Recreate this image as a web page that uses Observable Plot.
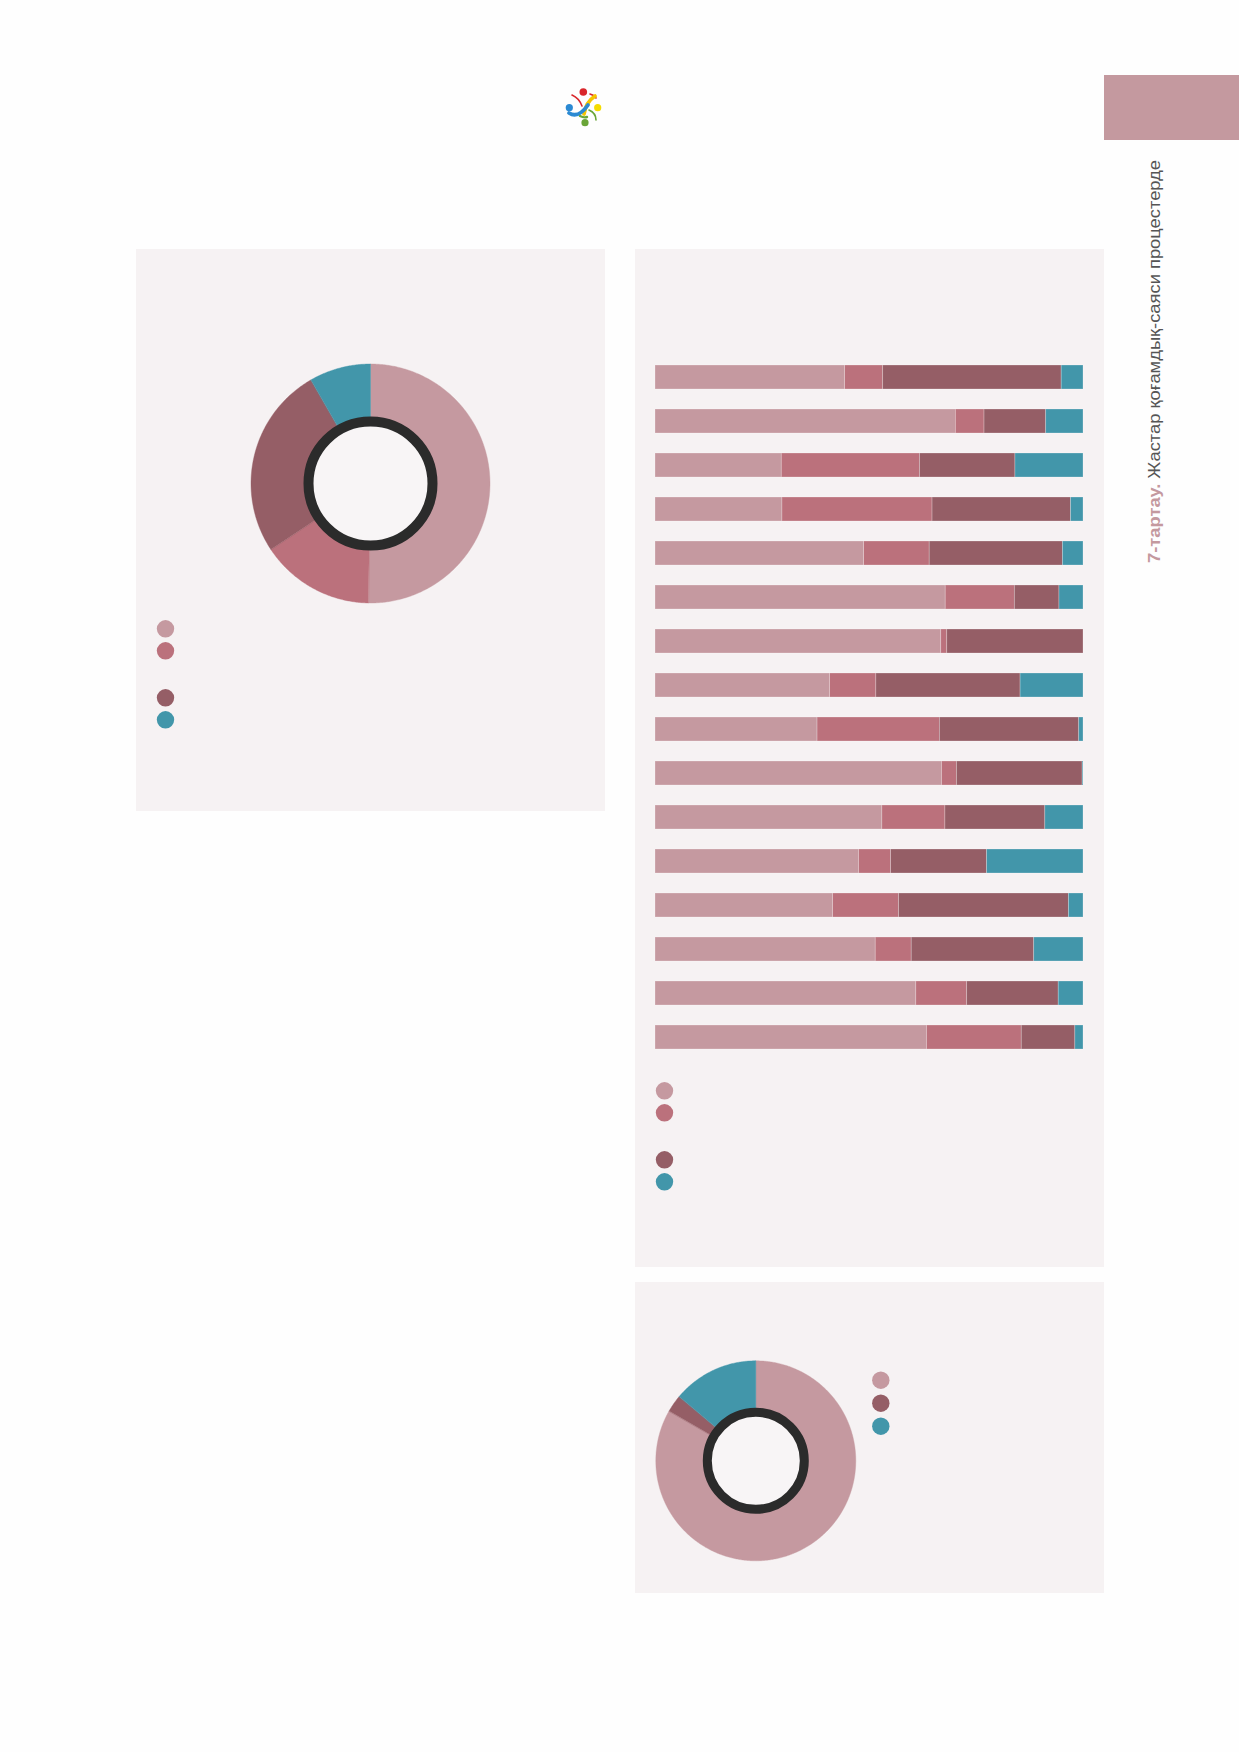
<!DOCTYPE html>
<html>
<head>
<meta charset="utf-8">
<script src="https://cdn.jsdelivr.net/npm/d3@7"></script>
<script src="https://cdn.jsdelivr.net/npm/@observablehq/plot@0.6"></script>
<style>
  html, body { margin: 0; padding: 0; background: #ffffff; }
  #page { position: relative; width: 1239px; height: 1752px; overflow: hidden; background: #fefefe; font-family: "Liberation Sans", "DejaVu Sans", sans-serif; }
  .panel { position: absolute; background: #f6f2f3; }
  .panel > div { position: absolute; }
  #deco { position: absolute; left: 0; top: 0; }
</style>
</head>
<body>
<div id="page">
  <div style="position:absolute;left:1104px;top:75px;width:135px;height:65px;background:#c4999f;"></div>
  <svg id="deco" width="1239" height="1752">
    <g id="logo" fill="none" stroke-linecap="round">
      <path d="M572,95 Q579,98 582,106" stroke="#d9262b" stroke-width="1.6"/>
      <path d="M590,94 Q594,95 596,98" stroke="#d9262b" stroke-width="1.6"/>
      <path d="M595,96 Q586,102 584,114" stroke="#f5c400" stroke-width="3.8"/>
      <path d="M569,113 Q578,119 588,105" stroke="#2b8ad3" stroke-width="3.8"/>
      <path d="M589,110 Q596,113 596,120" stroke="#6aa538" stroke-width="1.6"/>
      <path d="M580,116 Q584,118 587,117" stroke="#6aa538" stroke-width="2.4"/>
      <circle cx="583.3" cy="92" r="3.8" fill="#d9262b"/>
      <circle cx="597.7" cy="107.7" r="3.6" fill="#f5dc00"/>
      <circle cx="585" cy="122.7" r="3.6" fill="#6aa538"/>
      <circle cx="569.3" cy="107.7" r="3.6" fill="#2b8ad3"/>
    </g>
    <text transform="translate(1160,563) rotate(-90)" font-family="'Liberation Sans Narrow','Liberation Sans','DejaVu Sans',sans-serif" font-size="17" textLength="403" lengthAdjust="spacingAndGlyphs"><tspan fill="#c4999f" font-weight="bold">7-тартау.</tspan><tspan fill="#555555"> Жастар қоғамдық-саяси процестерде</tspan></text>
  </svg>
  <div class="panel" id="p1" style="left:136px;top:249px;width:469px;height:562px;"></div>
  <div class="panel" id="p2" style="left:635px;top:249px;width:469px;height:1018px;"></div>
  <div class="panel" id="p3" style="left:635px;top:1282px;width:469px;height:311px;"></div>
</div>
<script>
// ---------- data ----------
const seriesKeys = ["s1", "s2", "s3", "s4"];
const seriesColors = ["#c599a0", "#bb717c", "#955e66", "#4296aa"];

// donut 1 (four categories, %)
const donut1Keys = ["s1", "s2", "s3", "s4"];
const donut1Values = [50.3, 15.4, 26.0, 8.3];

// stacked bars (16 rows, four categories, %)
const barRows = ["1","2","3","4","5","6","7","8","9","10","11","12","13","14","15","16"];
const barS1 = [44.3, 70.1, 29.5, 29.6, 48.7, 67.6, 66.7, 40.8, 37.9, 67.0, 52.9, 47.5, 41.5, 51.4, 61.0, 63.3];
const barS2 = [ 8.9,  6.7, 32.3, 35.0, 15.3, 16.1,  1.4, 10.8, 28.6,  3.5, 14.7,  7.5, 15.4,  8.4, 11.9, 22.1];
const barS3 = [41.7, 14.4, 22.3, 32.3, 31.1, 10.4, 31.8, 33.7, 32.6, 29.4, 23.3, 22.4, 39.7, 28.6, 21.4, 12.5];
const barS4 = [ 5.1,  8.7, 15.9,  2.9,  4.8,  5.6,  0.0, 14.7,  1.0,  0.2,  8.9, 22.5,  3.4, 11.5,  5.8,  1.9];

// donut 3 (three categories, %)
const donut3Keys = ["s1", "s3", "s4"];
const donut3Values = [83.3, 2.8, 13.9];

// ---------- helpers ----------
const colorScale = {domain: seriesKeys, range: seriesColors};

function slicePolygons(keys, values, cx, cy, rIn, rOut) {
  const arcs = d3.pie().sort(null).value(d => d)(values);
  const pts = [];
  arcs.forEach((a, i) => {
    const n = Math.max(2, Math.ceil((a.endAngle - a.startAngle) / 0.01));
    const id = keys[i] + "_" + i;
    for (let k = 0; k <= n; k++) {
      const t = a.startAngle + (a.endAngle - a.startAngle) * k / n;
      pts.push({id, key: keys[i], x: cx + rOut * Math.sin(t), y: cy - rOut * Math.cos(t)});
    }
    for (let k = n; k >= 0; k--) {
      const t = a.startAngle + (a.endAngle - a.startAngle) * k / n;
      pts.push({id, key: keys[i], x: cx + rIn * Math.sin(t), y: cy - rIn * Math.cos(t)});
    }
  });
  return pts;
}

function legendItems(keys, x0, y0, step, gapAfter, gap) {
  return keys.map((k, i) => ({key: k, x: x0, y: y0 + i * step + (gapAfter != null && i > gapAfter ? gap : 0)}));
}

function donutPlot(W, H, keys, values, cx, cy, rOut, ringR, ringW, legend) {
  const pts = slicePolygons(keys, values, cx, cy, ringR, rOut);
  const ids = Array.from(new Set(pts.map(d => d.id)));
  const marks = ids.map(id => {
    const sub = pts.filter(d => d.id === id);
    return Plot.line(sub, {x: "x", y: "y", fill: "key", stroke: "key", strokeWidth: 0.4, curve: "linear-closed"});
  });
  marks.push(Plot.dot([{x: cx, y: cy}], {x: "x", y: "y", r: ringR, stroke: "#2b2b2b", strokeWidth: ringW, fill: "#f8f5f6"}));
  marks.push(Plot.dot(legend, {x: "x", y: "y", r: 8.7, fill: "key"}));
  return Plot.plot({
    width: W, height: H,
    margin: 0,
    x: {domain: [0, W], range: [0, W], axis: null},
    y: {domain: [0, H], range: [0, H], axis: null},
    color: colorScale,
    style: {background: "transparent", overflow: "visible"},
    marks
  });
}

// ---------- panel 1 ----------
document.getElementById("p1").appendChild(
  donutPlot(469, 562, donut1Keys, donut1Values, 234, 234, 119.5, 62, 10,
            legendItems(donut1Keys, 29, 379.3, 22, 1, 25))
);

// ---------- panel 2: stacked bars ----------
const barData = [];
barRows.forEach((r, i) => {
  [barS1, barS2, barS3, barS4].forEach((s, j) => {
    barData.push({row: r, series: seriesKeys[j], value: s[i]});
  });
});
const barPlot = Plot.plot({
  width: 469, height: 820,
  marginTop: 96, marginBottom: 0, marginLeft: 20, marginRight: 21,
  x: {domain: [0, 1], axis: null},
  y: {domain: barRows, paddingInner: 0.4545, paddingOuter: 0.4545, axis: null},
  color: colorScale,
  style: {background: "transparent"},
  marks: [
    Plot.barX(barData, Plot.stackX({x: "value", y: "row", fill: "series", offset: "normalize", stroke: "#ffffff", strokeOpacity: 0.35, strokeWidth: 0.7}))
  ]
});
const bp = document.createElement("div");
bp.style.left = "0px"; bp.style.top = "0px";
bp.appendChild(barPlot);
document.getElementById("p2").appendChild(bp);

const barLegend = legendItems(seriesKeys, 29, 12.3, 22, 1, 25);
const barLegendPlot = Plot.plot({
  width: 100, height: 120, margin: 0,
  x: {domain: [0, 100], range: [0, 100], axis: null},
  y: {domain: [0, 120], range: [0, 120], axis: null},
  color: colorScale,
  style: {background: "transparent"},
  marks: [Plot.dot(barLegend, {x: "x", y: "y", r: 8.7, fill: "key"})]
});
const bl = document.createElement("div");
bl.style.left = "0px"; bl.style.top = "829px";
bl.appendChild(barLegendPlot);
document.getElementById("p2").appendChild(bl);

// ---------- panel 3 ----------
document.getElementById("p3").appendChild(
  donutPlot(469, 311, donut3Keys, donut3Values, 120.3, 178.3, 100, 48.5, 9,
            legendItems(donut3Keys, 245.3, 97.7, 23, null, 0))
);
</script>
</body>
</html>
